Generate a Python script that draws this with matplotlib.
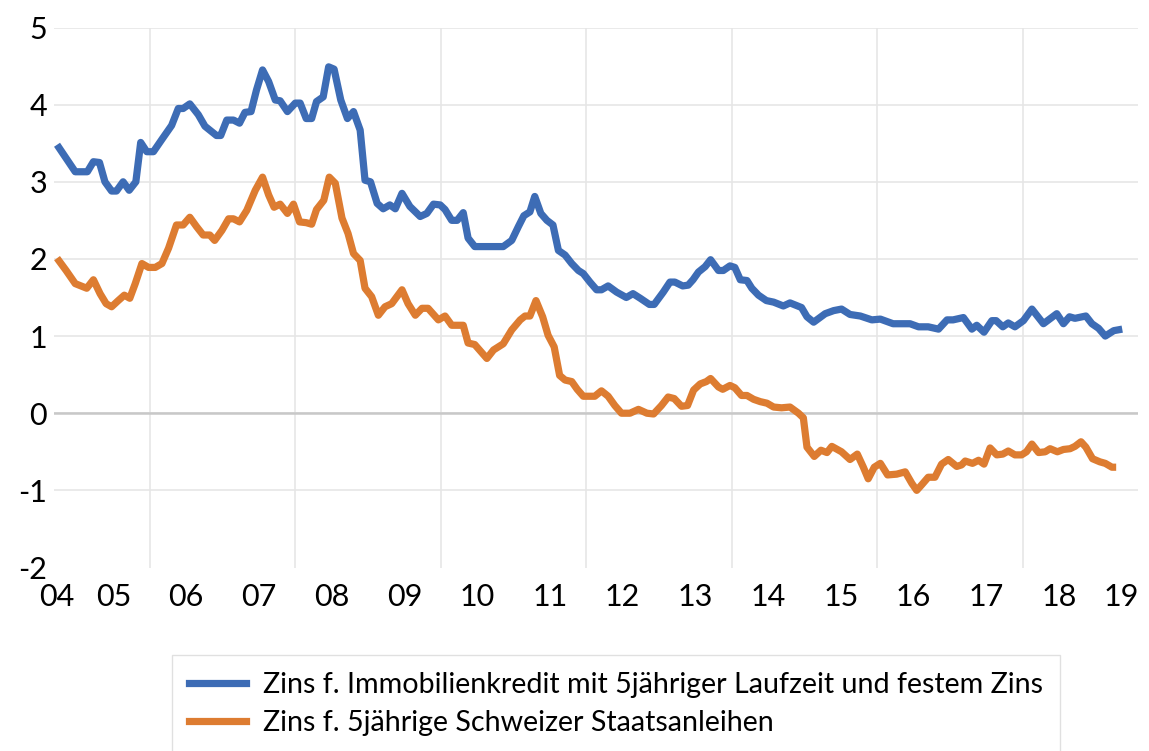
import matplotlib
matplotlib.use("Agg")
import matplotlib.pyplot as plt
from matplotlib.lines import Line2D

# ---- data (months since start of series, value in %) ----
blue_months = [0.0, 3.0, 5.0, 6.0, 7.0, 7.9, 9.0, 9.8, 10.9, 11.9, 13.0, 13.8, 14.8, 15.9,
               17.3, 18.9, 20.0, 20.8, 21.9, 23.3, 24.4, 25.2, 26.3, 27.0, 28.0, 29.1, 30.1,
               31.0, 32.0, 32.9, 33.9, 34.9, 36.0, 36.8, 38.0, 39.3, 40.1, 41.1, 42.0, 42.8,
               43.9, 44.8, 45.7, 46.8, 47.9, 48.9, 50.0, 50.8, 51.7, 52.8, 53.8, 54.9, 55.8,
               56.9, 58.2, 59.9, 61.0, 62.1, 63.2, 64.0, 65.1, 66.0, 67.0, 67.8, 68.9, 73.6,
               75.0, 76.1, 77.0, 78.0, 78.8, 79.8, 80.8, 81.8, 82.7, 83.8, 84.9, 86.0, 86.8,
               87.9, 89.0, 89.8, 90.9, 92.3, 93.9, 95.0, 96.2, 97.7, 98.5, 100.0, 101.1,
               101.9, 103.2, 104.1, 104.9, 105.8, 106.9, 107.8, 109.1, 109.9, 111.0, 111.8,
               112.7, 113.8, 114.6, 115.7, 117.0, 118.2, 119.8, 120.9, 122.8, 123.7, 124.8,
               126.7, 128.1, 129.4, 130.8, 132.5, 134.4, 135.8, 137.9, 140.7, 142.1, 143.7,
               145.4, 146.8, 147.8, 149.5, 150.9, 151.7, 152.9, 154.2, 154.9, 156.0, 156.9,
               158.0, 159.4, 160.8, 162.7, 164.9, 166.0, 167.0, 167.9, 169.7, 170.7, 171.8,
               172.9, 174.3, 175.7]
blue_values = [3.48, 3.13, 3.13, 3.26, 3.25, 3.00, 2.88, 2.88, 3.00, 2.89, 3.00, 3.51, 3.39, 3.39,
               3.55, 3.73, 3.95, 3.95, 4.01, 3.87, 3.72, 3.67, 3.60, 3.60, 3.80, 3.80, 3.76,
               3.90, 3.91, 4.19, 4.45, 4.30, 4.06, 4.05, 3.91, 4.02, 4.02, 3.82, 3.82, 4.04,
               4.10, 4.49, 4.46, 4.06, 3.82, 3.91, 3.67, 3.02, 3.00, 2.72, 2.65, 2.70, 2.65,
               2.85, 2.68, 2.55, 2.59, 2.71, 2.70, 2.64, 2.50, 2.50, 2.60, 2.27, 2.16, 2.16,
               2.24, 2.42, 2.56, 2.61, 2.81, 2.59, 2.50, 2.44, 2.11, 2.05, 1.94, 1.85, 1.81,
               1.70, 1.60, 1.60, 1.65, 1.57, 1.50, 1.55, 1.49, 1.41, 1.41, 1.57, 1.70,
               1.70, 1.65, 1.66, 1.73, 1.83, 1.90, 1.99, 1.85, 1.85, 1.91, 1.89,
               1.73, 1.72, 1.62, 1.53, 1.46, 1.44, 1.39, 1.43, 1.37, 1.25, 1.18,
               1.29, 1.33, 1.35, 1.28, 1.26, 1.21, 1.22, 1.16, 1.16, 1.12, 1.12,
               1.09, 1.21, 1.21, 1.24, 1.09, 1.14, 1.05, 1.20, 1.20, 1.12, 1.17,
               1.12, 1.20, 1.35, 1.16, 1.29, 1.16, 1.25, 1.23, 1.26, 1.16, 1.10,
               1.00, 1.07, 1.09]

orange_months = [0.0, 1.5, 3.0, 4.9, 6.0, 7.1, 8.1, 9.0, 10.1, 11.1, 12.0, 12.9, 14.0, 15.1,
                 16.2, 17.3, 18.4, 19.7, 20.8, 21.9, 23.0, 24.1, 25.2, 26.0, 27.2, 28.3, 29.1,
                 30.1, 31.3, 32.7, 33.9, 34.9, 35.8, 36.8, 38.0, 39.0, 40.0, 41.1, 42.0, 42.8,
                 44.0, 44.9, 45.9, 47.0, 48.0, 48.9, 50.0, 50.8, 51.9, 53.0, 54.1, 55.2, 56.9,
                 57.9, 59.1, 60.2, 61.2, 62.9, 64.0, 65.1, 67.0, 67.8, 68.9, 70.9, 72.0, 73.6,
                 75.0, 76.4, 77.2, 78.0, 79.0, 80.1, 81.0, 82.0, 82.9, 83.8, 84.9, 85.8, 86.8,
                 88.7, 89.8, 90.9, 92.0, 93.1, 94.5, 95.9, 97.3, 98.4, 99.7, 100.8, 101.8,
                 103.0, 104.0, 105.0, 106.1, 107.1, 107.8, 109.1, 109.8, 111.0, 111.8, 112.9,
                 113.8, 114.9, 116.0, 117.1, 118.2, 119.5, 120.9, 122.3, 123.1, 123.7, 124.9,
                 126.0, 127.0, 127.8, 129.4, 130.8, 132.0, 133.0, 133.8, 134.8, 135.8, 137.0,
                 138.5, 139.9, 141.0, 141.8, 142.6, 143.7, 144.8, 145.9, 147.0, 148.4, 149.2,
                 149.8, 151.0, 152.0, 152.9, 153.9, 155.0, 156.0, 156.9, 158.0, 159.1, 159.9,
                 160.8, 161.9, 163.0, 163.8, 165.0, 166.0, 167.1, 167.9, 168.9, 169.7, 170.8,
                 172.0, 172.9, 174.0, 174.7]
orange_values = [2.01, 1.85, 1.68, 1.62, 1.73, 1.55, 1.42, 1.38, 1.46, 1.53, 1.49, 1.68, 1.94, 1.89,
                 1.89, 1.94, 2.14, 2.44, 2.44, 2.54, 2.42, 2.31, 2.31, 2.24, 2.37, 2.52, 2.52,
                 2.48, 2.63, 2.89, 3.06, 2.83, 2.67, 2.71, 2.59, 2.71, 2.48, 2.47, 2.45, 2.64,
                 2.76, 3.06, 2.98, 2.53, 2.33, 2.07, 1.98, 1.62, 1.51, 1.27, 1.38, 1.42, 1.60,
                 1.42, 1.27, 1.36, 1.36, 1.21, 1.26, 1.14, 1.14, 0.91, 0.89, 0.71, 0.82, 0.90,
                 1.08, 1.21, 1.26, 1.26, 1.46, 1.25, 1.01, 0.86, 0.49, 0.43, 0.41, 0.31, 0.22,
                 0.22, 0.29, 0.22, 0.10, 0.00, 0.00, 0.05, 0.00, -0.01, 0.10, 0.21, 0.19,
                 0.09, 0.10, 0.30, 0.38, 0.41, 0.45, 0.34, 0.31, 0.36, 0.33, 0.23,
                 0.23, 0.18, 0.15, 0.13, 0.08, 0.07, 0.08, 0.00, -0.06, -0.44, -0.56,
                 -0.48, -0.51, -0.43, -0.50, -0.60, -0.53, -0.70, -0.85, -0.70, -0.65, -0.80,
                 -0.79, -0.76, -0.91, -1.00, -0.93, -0.83, -0.83, -0.66, -0.60, -0.69, -0.67,
                 -0.62, -0.65, -0.61, -0.66, -0.45, -0.54, -0.53, -0.49, -0.54, -0.54, -0.50,
                 -0.40, -0.51, -0.50, -0.46, -0.50, -0.47, -0.46, -0.43, -0.37, -0.44, -0.59,
                 -0.63, -0.65, -0.70, -0.70]

year_labels = ['04', '05', '06', '07', '08', '09', '10', '11', '12', '13', '14', '15',
               '16', '17', '18', '19']
y_ticks = [-2, -1, 0, 1, 2, 3, 4, 5]
series_names = ['Zins f. Immobilienkredit mit 5jähriger Laufzeit und festem Zins',
                'Zins f. 5jährige Schweizer Staatsanleihen']

# ---- figure ----
FONT = ['Lato', 'DejaVu Sans']
plt.rcParams['font.family'] = FONT

W, H = 1149, 751
fig = plt.figure(figsize=(W / 100, H / 100), dpi=100)
ax = fig.add_axes([54 / W, 1 - 567.5 / H, (1138 - 54) / W, (567.5 - 27.5) / H])

BLUE = '#3d6cb5'
ORANGE = '#dd7c31'

ax.set_xlim(-0.5, 178.3)
ax.set_ylim(-2, 5)

# vertical gridlines every two years
for k in range(7):
    ax.axvline(15.3 + 24 * k, color='#e6e6e6', lw=1.2, zorder=0)
# horizontal gridlines
for v in y_ticks:
    if v in (-2,):
        continue
    ax.axhline(v, color='#e6e6e6', lw=1.2, zorder=0)
ax.axhline(0, color='#c8c8c8', lw=1.8, zorder=1)

ax.plot(blue_months, blue_values, color=BLUE, lw=5.2, solid_joinstyle='round',
        solid_capstyle='butt', zorder=3)
ax.plot(orange_months, orange_values, color=ORANGE, lw=5.2, solid_joinstyle='round',
        solid_capstyle='butt', zorder=3)

# ticks
xpos = [0] + [9.3 + 12 * k for k in range(len(year_labels) - 2)] + [175.5]
ax.set_xticks(xpos)
ax.set_xticklabels(year_labels)
ax.set_yticks(y_ticks)
ax.set_yticklabels([str(v) for v in y_ticks])
ax.tick_params(axis='both', length=0, labelsize=22, colors='black')
ax.tick_params(axis='x', pad=11)
ax.tick_params(axis='y', pad=5)
for s in ax.spines.values():
    s.set_visible(False)

handles = [Line2D([], [], color=BLUE, lw=5.2), Line2D([], [], color=ORANGE, lw=5.2)]
leg = fig.legend(handles, series_names, loc='upper left',
                 bbox_to_anchor=(172 / W, 1 - 655 / H), frameon=True, fancybox=False,
                 edgecolor='#d9d9d9', fontsize=20.6, handlelength=2.0,
                 handletextpad=0.57, labelspacing=0.4, borderpad=0.6,
                 borderaxespad=0)
leg.get_frame().set_linewidth(1.0)

fig.savefig('out.png', dpi=100)
